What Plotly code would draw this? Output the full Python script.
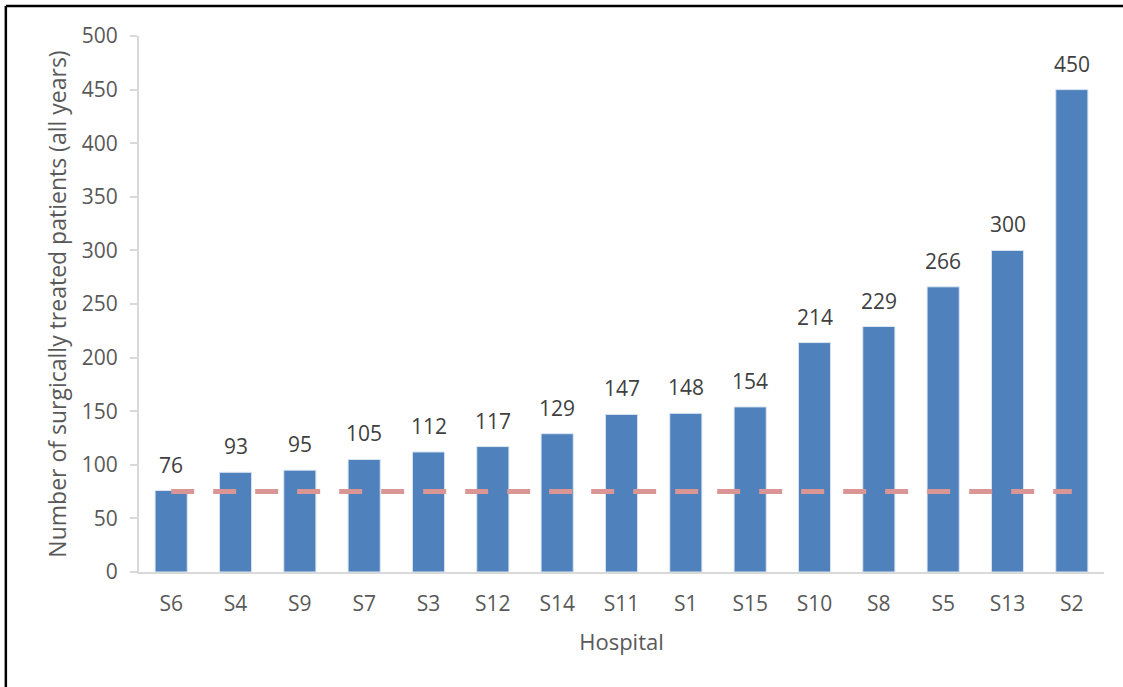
import plotly.graph_objects as go

# Hospitals sorted by surgical volume
hospitals = ["S6", "S4", "S9", "S7", "S3", "S12", "S14", "S11",
             "S1", "S15", "S10", "S8", "S5", "S13", "S2"]
patients = [76, 93, 95, 105, 112, 117, 129, 147,
            148, 154, 214, 229, 266, 300, 450]
threshold = [75] * len(hospitals)

y_ticks = list(range(0, 501, 50))

FONT = "Open Sans"
GREY = "#595959"

fig = go.Figure()

fig.add_trace(go.Bar(
    x=hospitals, y=patients,
    marker=dict(color="#4F81BD", line=dict(color="#DCE6F2", width=1)),
    showlegend=False, hoverinfo="x+y",
))

# minimum volume reference line
fig.add_trace(go.Scatter(
    x=hospitals, y=threshold, mode="lines",
    line=dict(color="#D99694", width=5, dash="23px,19px"),
    showlegend=False, hoverinfo="skip",
))

# value labels above bars
for h, v in zip(hospitals, patients):
    fig.add_annotation(x=h, y=v, text=str(v), showarrow=False,
                       yanchor="bottom", yshift=10,
                       font=dict(family=FONT, size=21, color="#404040"))

# frame of the original picture (top and left edges)
fig.add_shape(type="line", xref="paper", yref="paper",
              x0=-0.138, x1=1.05, y0=1.056, y1=1.056,
              line=dict(color="black", width=2.5))
fig.add_shape(type="line", xref="paper", yref="paper",
              x0=-0.138, x1=-0.138, y0=1.056, y1=-0.25,
              line=dict(color="black", width=2.5))

fig.update_xaxes(
    title=dict(text="Hospital", font=dict(family=FONT, size=22, color=GREY),
               standoff=18),
    tickfont=dict(family=FONT, size=21, color=GREY),
    ticklabelstandoff=12,
    showline=True, linecolor="#D9D9D9", linewidth=2,
    ticks="", showgrid=False,
)
fig.update_yaxes(
    title=dict(text="Number of surgically treated patients (all years)",
               font=dict(family=FONT, size=23, color=GREY), standoff=9),
    range=[0, 500], tickvals=y_ticks,
    tickfont=dict(family=FONT, size=21, color=GREY),
    ticklabelstandoff=8,
    showline=True, linecolor="#D9D9D9", linewidth=2,
    ticks="outside", ticklen=7, tickcolor="#D9D9D9", tickwidth=2,
    showgrid=False, zeroline=False,
)

fig.update_layout(
    width=1123, height=687,
    margin=dict(l=139, r=19, t=36, b=115),
    paper_bgcolor="white", plot_bgcolor="white",
    bargap=0.5,
    font=dict(family=FONT, color=GREY),
)

fig.write_html("out.html", config={"displayModeBar": False},
               post_script="document.body.style.margin='0px';")
